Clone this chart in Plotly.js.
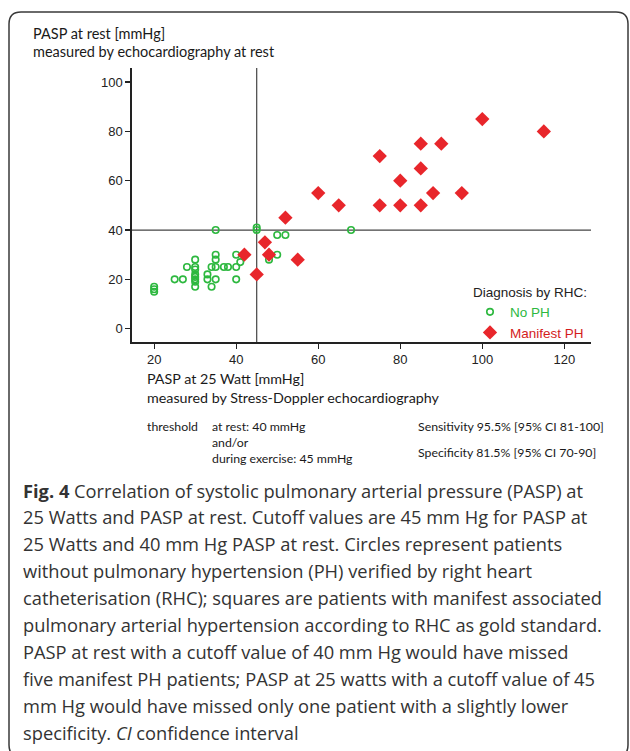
<!DOCTYPE html>
<html>
<head>
<meta charset="utf-8">
<script src="https://cdn.plot.ly/plotly-3.0.1.min.js"></script>
<style>html,body{margin:0;padding:0;background:#fff;}#chart{width:630px;height:751px;}</style>
</head>
<body>
<div id="chart"></div>
<script>
// ---- Data ----
const noPhX = [20,20,20,25,27,28,30,30,30,30,30,30,30,30,33,33,34,34,35,35,35,35,35,37,38,40,40,40,41,45,45,48,50,50,52,68];
const noPhY = [15,16,17,20,20,25,28,25,24,22,21,20,19,17,22,20,25,17,40,30,28,25,20,25,25,30,25,20,27,40,41,28,30,38,38,40];
const manifestX = [42,45,47,48,52,55,60,65,75,75,80,80,85,85,85,88,90,95,100,115];
const manifestY = [30,22,35,30,45,28,55,50,70,50,60,50,75,65,50,55,75,55,85,80];
const restCutoff = 40;      // mmHg, PASP at rest
const exerciseCutoff = 45;  // mmHg, PASP at 25 Watt
const xTicks = [20,40,60,80,100,120];
const yTicks = [0,20,40,60,80,100];
const seriesNames = ['No PH','Manifest PH'];
const legendTitle = 'Diagnosis by RHC:';
const yTitleLines = ['PASP at rest [mmHg]','measured by echocardiography at rest'];
const xTitleLines = ['PASP at 25 Watt [mmHg]','measured by Stress-Doppler echocardiography'];
const thresholdLabel = 'threshold';
const thresholdLines = ['at rest: 40 mmHg','and/or','during exercise: 45 mmHg'];
const statsLines = ['Sensitivity 95.5% [95% CI 81-100]','Specificity 81.5% [95% CI 70-90]'];
const captionLines = [
  '<b>Fig. 4</b> Correlation of systolic pulmonary arterial pressure (PASP) at',
  '25 Watts and PASP at rest. Cutoff values are 45 mm Hg for PASP at',
  '25 Watts and 40 mm Hg PASP at rest. Circles represent patients',
  'without pulmonary hypertension (PH) verified by right heart',
  'catheterisation (RHC); squares are patients with manifest associated',
  'pulmonary arterial hypertension according to RHC as gold standard.',
  'PASP at rest with a cutoff value of 40 mm Hg would have missed',
  'five manifest PH patients; PASP at 25 watts with a cutoff value of 45',
  'mm Hg would have missed only one patient with a slightly lower',
  'specificity. <i>CI</i> confidence interval'
];

// ---- Layout helpers ----
const W = 630, H = 751;
const M = {l:132, r:39, t:68, b:409};
const PW = W - M.l - M.r, PH = H - M.t - M.b;
const px = X => (X - M.l) / PW;
const py = Y => (H - M.b - Y) / PH;

const GREEN = '#2db83f', RED = '#e8262b';
const labelFont = 'Lato, "Liberation Sans", sans-serif';
const axisFont = '"Liberation Sans", Arial, sans-serif';
const capFont = '"Open Sans", "Noto Sans", sans-serif';

const ann = [];
function addText(text, X, Y, size, opts) {
  ann.push(Object.assign({
    text: text, xref: 'paper', yref: 'paper', x: px(X), y: py(Y),
    xanchor: 'left', yanchor: 'middle', showarrow: false,
    font: {family: labelFont, size: size, color: '#1a1a1a'}
  }, opts || {}));
}
yTitleLines.forEach((t, i) => addText(t, 31, 33 + i * 18.5, 14.5));
xTitleLines.forEach((t, i) => addText(t, 145, 378 + i * 19, 14.3));
addText(thresholdLabel, 145, 426, 12.3);
thresholdLines.forEach((t, i) => addText(t, 210, 426 + i * 16, 12.3));
statsLines.forEach((t, i) => addText(t, 416, 426 + i * 26, 12.3));
captionLines.forEach((t, i) => addText(t, 21, 490 + i * 26.9, 18.3,
  {font: {family: capFont, size: 18.3, color: '#333'}}));

// rounded frame around the figure
function framePath(x0, y0, x1, y1, r) {
  const P = (X, Y) => px(X) + ',' + py(Y);
  return 'M' + P(x0 + r, y0) + ' L' + P(x1 - r, y0) + ' Q' + P(x1, y0) + ' ' + P(x1, y0 + r) +
    ' L' + P(x1, y1 - r) + ' Q' + P(x1, y1) + ' ' + P(x1 - r, y1) +
    ' L' + P(x0 + r, y1) + ' Q' + P(x0, y1) + ' ' + P(x0, y1 - r) +
    ' L' + P(x0, y0 + r) + ' Q' + P(x0, y0) + ' ' + P(x0 + r, y0) + ' Z';
}

const shapes = [
  {type: 'path', xref: 'paper', yref: 'paper', path: framePath(9, 12, 628, 757, 12),
   line: {color: '#3a3a3a', width: 1.5}, layer: 'below'},
  {type: 'line', xref: 'paper', yref: 'y', x0: 0, x1: 1, y0: restCutoff, y1: restCutoff,
   line: {color: '#444', width: 1.2}, layer: 'below'},
  {type: 'line', xref: 'x', yref: 'paper', x0: exerciseCutoff, x1: exerciseCutoff, y0: 0, y1: 1,
   line: {color: '#444', width: 1.2}, layer: 'below'}
];

const traces = [
  {x: noPhX, y: noPhY, type: 'scatter', mode: 'markers',
   name: '<span style="color:' + GREEN + '">' + seriesNames[0] + '</span>',
   marker: {symbol: 'circle-open', size: 6.5, color: GREEN, line: {width: 1.6, color: GREEN}}},
  {x: manifestX, y: manifestY, type: 'scatter', mode: 'markers',
   name: '<span style="color:#d41c1c">' + seriesNames[1] + '</span>',
   marker: {symbol: 'diamond', size: 11, color: RED, line: {width: 0}}}
];

const layout = {
  width: W, height: H,
  margin: M,
  paper_bgcolor: '#fff', plot_bgcolor: 'rgba(0,0,0,0)',
  showlegend: true,
  legend: {
    x: px(589), y: py(348), xanchor: 'right', yanchor: 'bottom',
    bgcolor: 'rgba(0,0,0,0)', borderwidth: 0,
    font: {family: axisFont, size: 13.5, color: '#222'},
    title: {text: legendTitle, side: 'top right', font: {family: axisFont, size: 13.5, color: '#222'}},
    tracegroupgap: 0, itemwidth: 30
  },
  xaxis: {
    range: [14.6, 126.5], tickvals: xTicks, ticktext: xTicks.map(String),
    showgrid: false, zeroline: false, showline: true, linecolor: '#222', linewidth: 1.6,
    ticks: 'outside', ticklen: 5, tickwidth: 1.2, tickcolor: '#222',
    tickfont: {family: axisFont, size: 13, color: '#222'}
  },
  yaxis: {
    range: [-5.4, 105.7], tickvals: yTicks, ticktext: yTicks.map(String),
    showgrid: false, zeroline: false, showline: true, linecolor: '#222', linewidth: 1.6,
    ticks: 'outside', ticklen: 5, tickwidth: 1.2, tickcolor: '#222',
    tickfont: {family: axisFont, size: 13, color: '#222'}
  },
  annotations: ann,
  shapes: shapes
};

Plotly.newPlot('chart', traces, layout, {displayModeBar: false, staticPlot: true});
</script>
</body>
</html>
